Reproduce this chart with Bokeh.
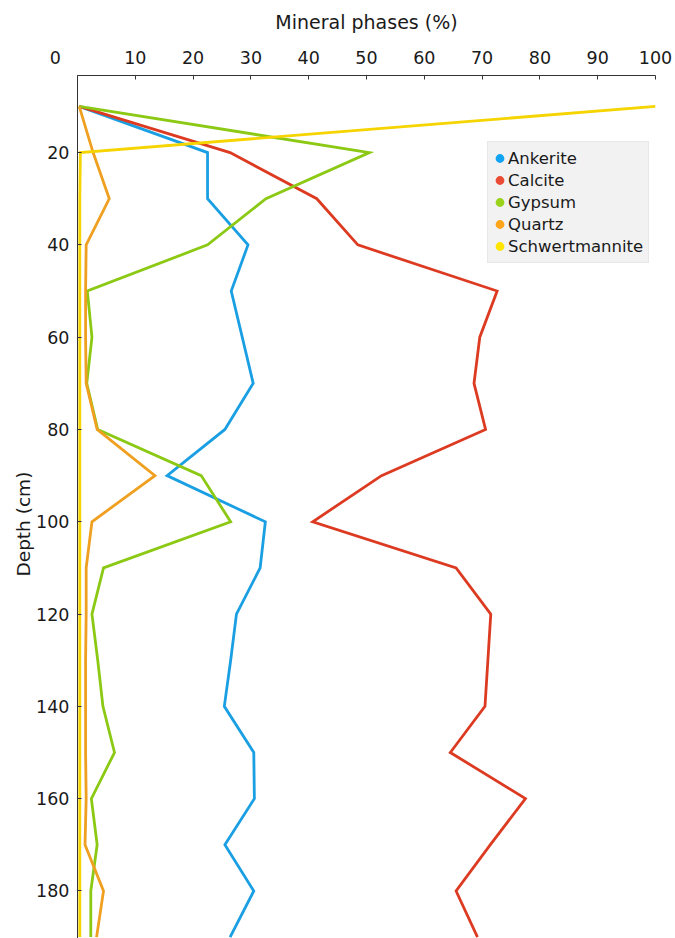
from bokeh.embed import file_html
from bokeh.models import FixedTicker, Legend, LegendItem, Range1d, Title
from bokeh.plotting import figure
from bokeh.resources import INLINE

# Sampling depths (cm)
depth = [10, 20, 30, 40, 50, 60, 70, 80, 90, 100,
         110, 120, 130, 140, 150, 160, 170, 180, 190]

# Mineral phase contents (%) at each depth
ankerite = [0.3, 22.5, 22.5, 29.5, 26.6, 28.5, 30.4, 25.5, 15.5, 32.5,
            31.6, 27.5, 26.5, 25.4, 30.5, 30.6, 25.5, 30.5, 26.4]
calcite = [0.3, 26.4, 41.4, 48.5, 72.6, 69.6, 68.6, 70.6, 52.6, 40.7,
           65.5, 71.5, 71.0, 70.5, 64.5, 77.5, 71.4, 65.5, 69.2]
gypsum = [0.3, 50.5, 32.6, 22.5, 1.7, 2.5, 1.6, 3.5, 21.4, 26.5,
          4.5, 2.5, 3.5, 4.4, 6.4, 2.4, 3.4, 2.3, 2.3]
quartz = [0.3, 2.7, 5.5, 1.5, 1.4, 1.4, 1.5, 3.4, 13.4, 2.5,
          1.5, 1.5, 1.4, 1.4, 1.4, 1.5, 1.3, 4.5, 3.3]
schwertmannite = [100.0, 0.5, 0.4, 0.4, 0.4, 0.4, 0.4, 0.4, 0.4, 0.4,
                  0.4, 0.4, 0.4, 0.4, 0.4, 0.4, 0.4, 0.4, 0.4]

names = ["Ankerite", "Calcite", "Gypsum", "Quartz", "Schwertmannite"]
series = [ankerite, calcite, gypsum, quartz, schwertmannite]
line_colors = ["#1a9fe3", "#dc3b22", "#8cc914", "#f0a020", "#f5d400"]
dot_colors = ["#12a4f2", "#ea4b35", "#9ad21c", "#fea41a", "#ffe500"]

x_ticks = [0, 10, 20, 30, 40, 50, 60, 70, 80, 90, 100]
y_ticks = [20, 40, 60, 80, 100, 120, 140, 160, 180]

FONT = "DejaVu Sans"
TEXT = "#1a1a1a"
AXIS = "#333333"
FIG_SPACE = "\u2007"

p = figure(
    width=675, height=938,
    output_backend="svg", toolbar_location=None,
    x_range=Range1d(0, 100), y_range=Range1d(190.3, 3.3),
    x_axis_location="above",
    min_border_left=77, min_border_right=20,
    min_border_top=75, min_border_bottom=0,
)
p.outline_line_color = None
p.grid.visible = False
p.background_fill_color = "white"
p.border_fill_color = "white"

# Top axis: mineral phase percentage; the origin label sits out at the corner
xa = p.xaxis[0]
xa.ticker = FixedTicker(ticks=x_ticks)
xa.major_label_overrides = {0: "0" + FIG_SPACE * 4}
xa.axis_label = "Mineral phases (%)"
xa.axis_label_text_font = FONT
xa.axis_label_text_font_size = "19px"
xa.axis_label_text_font_style = "normal"
xa.axis_label_text_color = TEXT
xa.axis_label_standoff = 12
xa.major_label_text_font = FONT
xa.major_label_text_font_size = "17.5px"
xa.major_label_text_color = TEXT
xa.major_label_standoff = 8
xa.major_tick_in = 4
xa.major_tick_out = 0
xa.minor_tick_line_color = None
xa.axis_line_color = AXIS
xa.major_tick_line_color = AXIS

# Left axis: depth
ya = p.yaxis[0]
ya.ticker = FixedTicker(ticks=y_ticks)
ya.major_label_text_font = FONT
ya.major_label_text_font_size = "17.5px"
ya.major_label_text_color = TEXT
ya.major_label_standoff = 8
ya.major_tick_in = 4
ya.major_tick_out = 0
ya.minor_tick_line_color = None
ya.axis_line_color = AXIS
ya.major_tick_line_color = AXIS

# Profiles
for vals, col in zip(series, line_colors):
    p.line(vals, depth, line_color=col, line_width=2.8, line_join="miter")

# Legend entries drawn as dots
items = []
for name, col in zip(names, dot_colors):
    r = p.scatter(x=[float("nan")], y=[float("nan")], marker="circle", size=6,
                  fill_color=col, line_color=col, line_width=3.6)
    items.append(LegendItem(label=name, renderers=[r]))

legend = Legend(
    items=items, location=(410, 675),
    label_text_font=FONT, label_text_font_size="16.5px", label_text_color=TEXT,
    glyph_width=13, glyph_height=22, label_standoff=2,
    spacing=0, padding=5, margin=0,
    background_fill_color="#f2f2f2", background_fill_alpha=1.0,
    border_line_color="#dcdcdc", border_line_width=1,
)
p.add_layout(legend)

# Depth title on the left side, anchored from the bottom of the frame
p.add_layout(Title(text="Depth (cm)", align="left", offset=362, standoff=0,
                   text_font=FONT, text_font_size="18.5px",
                   text_font_style="normal", text_color=TEXT), "left")

open("out.html", "w").write(file_html(p, INLINE))
